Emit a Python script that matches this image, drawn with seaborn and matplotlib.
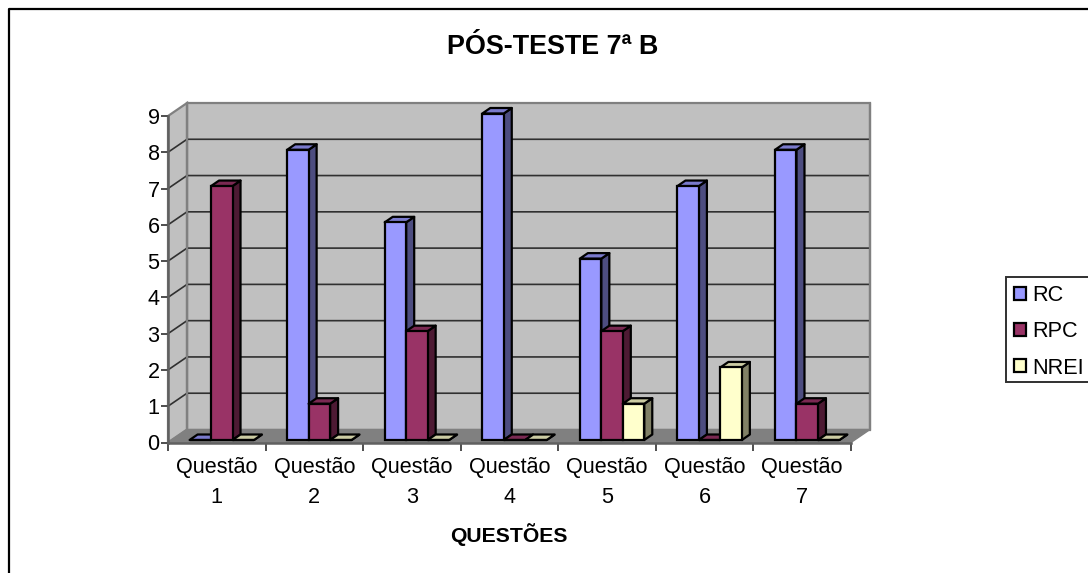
import matplotlib
matplotlib.use("Agg")
import matplotlib.pyplot as plt
import matplotlib.colors as mc
from matplotlib.patches import Polygon, Rectangle
from matplotlib.lines import Line2D
import pandas as pd
import seaborn as sns

categories = ["Questão\n1", "Questão\n2", "Questão\n3", "Questão\n4", "Questão\n5", "Questão\n6", "Questão\n7"]
rc = [0, 8, 6, 9, 5, 7, 8]
rpc = [7, 1, 3, 0, 3, 0, 1]
nrei = [0, 0, 0, 0, 1, 2, 0]
series_names = ["RC", "RPC", "NREI"]
series_colors = ["#9999FF", "#993366", "#FFFFCC"]
title = "PÓS-TESTE 7ª B"
xlabel = "QUESTÕES"

sns.set_theme(style="white")
plt.rcParams["font.family"] = ["Liberation Sans", "DejaVu Sans"]

W, H = 1088, 573
fig = plt.figure(figsize=(W / 100, H / 100), dpi=100, facecolor="white")
L, R, T, B = 168, 851, 116, 442.5
ax = fig.add_axes([L / W, (H - B) / H, (R - L) / W, (B - T) / H])
ax.patch.set_alpha(0)

df = pd.DataFrame({
    "cat": categories * 3,
    "val": rc + rpc + nrei,
    "serie": sum([[s] * len(categories) for s in series_names], []),
})
sns.barplot(data=df, x="cat", y="val", hue="serie", hue_order=series_names,
            palette=series_colors, saturation=1, width=0.66, gap=0, dodge=True,
            edgecolor="black", linewidth=1.6, ax=ax, legend=False)
ax.set_xlim(-0.5, 6.5)
ax.set_ylim(0, 9)

px, py = (R - L) / 7, (B - T) / 9
wall_dx, wall_dy = 19 / px, 13 / py
bar_sx, bar_sy = 5 / px, 2.5 / py
bar_dx, bar_dy = 8 / px, 5.5 / py

x0, x1 = ax.get_xlim()
y0, y1 = ax.get_ylim()
wall = "#C0C0C0"
edge = "#808080"
# walls and floor
ax.add_patch(Polygon([(x0 + wall_dx, y0 + wall_dy), (x1 + wall_dx, y0 + wall_dy),
                      (x1 + wall_dx, y1 + wall_dy), (x0 + wall_dx, y1 + wall_dy)],
                     fc=wall, ec=edge, lw=1.6, zorder=0.1, clip_on=False))
ax.add_patch(Polygon([(x0, y0), (x0 + wall_dx, y0 + wall_dy),
                      (x0 + wall_dx, y1 + wall_dy), (x0, y1)],
                     fc=wall, ec=edge, lw=1.6, zorder=0.2, clip_on=False))
ax.add_patch(Polygon([(x0, y0), (x1, y0), (x1 + wall_dx, y0 + wall_dy), (x0 + wall_dx, y0 + wall_dy)],
                     fc="#808080", ec=edge, lw=1, zorder=0.3, clip_on=False))
# gridlines
for v in range(1, 9):
    ax.add_line(Line2D([x0, x0 + wall_dx, x1 + wall_dx], [v, v + wall_dy, v + wall_dy],
                       color="#303030", lw=1.2, zorder=0.4, clip_on=False))
ax.add_line(Line2D([x0 + wall_dx, x0 + wall_dx], [y0 + wall_dy, y1 + wall_dy],
                   color=edge, lw=1.6, zorder=0.45, clip_on=False))
ax.add_line(Line2D([x1 + wall_dx, x1 + wall_dx], [y0 + wall_dy, y1 + wall_dy],
                   color=edge, lw=1.6, zorder=0.45, clip_on=False))


def shade(c, f):
    r, g, b = mc.to_rgb(c)
    return (r * f, g * f, b * f)


patches = sorted([p for p in ax.patches if isinstance(p, Rectangle)], key=lambda p: p.get_x())
for i, p in enumerate(patches):
    z = 2 + i * 0.01
    x = p.get_x() + bar_sx
    w = p.get_width()
    h = p.get_height()
    c = p.get_facecolor()
    p.set_x(x)
    p.set_y(bar_sy)
    p.set_zorder(z + 0.002)
    p.set_clip_on(False)
    t = h + bar_sy
    ax.add_patch(Polygon([(x + w, bar_sy), (x + w + bar_dx, bar_sy + bar_dy),
                          (x + w + bar_dx, t + bar_dy), (x + w, t)],
                         fc=shade(c, 0.5), ec="black", lw=1.6, zorder=z, clip_on=False, joinstyle="round"))
    ax.add_patch(Polygon([(x, t), (x + bar_dx, t + bar_dy), (x + w + bar_dx, t + bar_dy), (x + w, t)],
                         fc=shade(c, 0.8), ec="black", lw=1.6, zorder=z + 0.001, clip_on=False, joinstyle="round"))

# axes
sns.despine(ax=ax, top=True, right=True)
for s in ("left", "bottom"):
    ax.spines[s].set_color("#606060")
    ax.spines[s].set_linewidth(1.8)
    ax.spines[s].set_zorder(1)
ax.set_yticks(range(0, 10))
ax.set_xticks([i - 0.5 for i in range(8)], minor=True)
ax.set_xticks(range(7))
ax.set_xticklabels(categories, fontsize=15.6, color="black", linespacing=1.53)
ax.tick_params(axis="x", which="major", length=0, pad=10.5)
ax.tick_params(axis="x", which="minor", length=6, width=1.3, color="#404040", bottom=True)
ax.tick_params(axis="y", length=5, width=1.3, color="#404040", left=True, labelsize=15.6,
               labelcolor="black", pad=1)
ax.set_xlabel("")
ax.set_ylabel("")

fig.text(553 / W, 1 - 47 / H, title, ha="center", va="center", fontsize=19.4, fontweight="bold", color="black")
fig.text(509 / W, 1 - 535 / H, xlabel, ha="center", va="center", fontsize=15.2, fontweight="bold", color="black")

# legend: box open at the picture's right edge, as in the reference
fig.add_artist(Rectangle((1006 / W, 1 - 382 / H), 100 / W, 105 / H, fc="white", ec="#303030", lw=1.4,
                         transform=fig.transFigure, zorder=1))
handles = [Rectangle((0, 0), 1, 1, fc=c, ec="black", lw=1.6) for c in series_colors]
leg = fig.legend(handles, series_names, loc="upper left",
                 bbox_to_anchor=(1006 / W, 1 - 277 / H), bbox_transform=fig.transFigure,
                 fontsize=15.6, frameon=False,
                 handlelength=0.55, handleheight=0.55, handletextpad=0.3, labelspacing=0.7,
                 borderpad=0.38, borderaxespad=0, labelcolor="black")
leg.set_zorder(2)

# chart-area border (top and left edges visible)
fig.add_artist(Line2D([8.5 / W, 8.5 / W, 1], [0, 1 - 9 / H, 1 - 9 / H], color="black", lw=1.6,
                      transform=fig.transFigure))

fig.savefig("out.png", dpi=100, facecolor="white")
